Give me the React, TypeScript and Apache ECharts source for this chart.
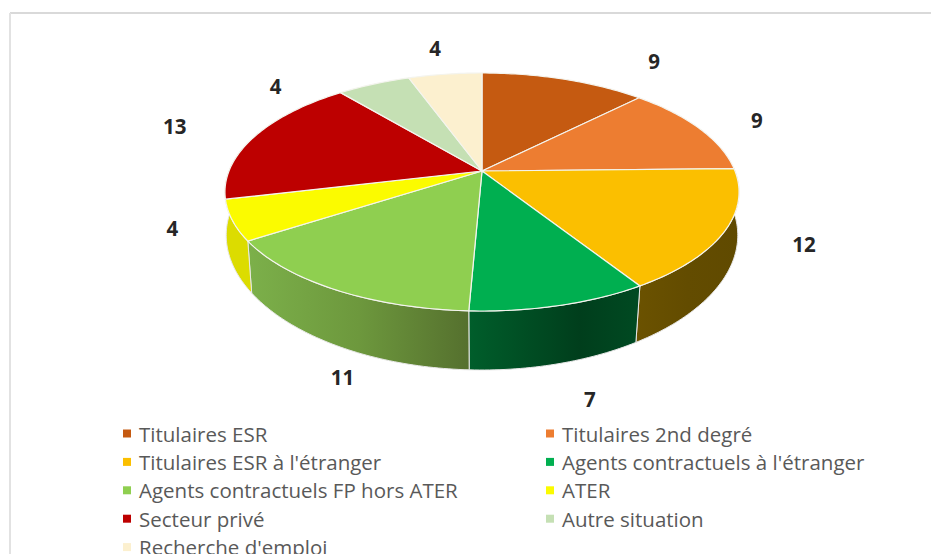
import React, { useEffect, useRef } from "react";
import * as echarts from "echarts";

const categories = [
  "Titulaires ESR",
  "Titulaires 2nd degré",
  "Titulaires ESR à l'étranger",
  "Agents contractuels à l'étranger",
  "Agents contractuels FP hors ATER",
  "ATER",
  "Secteur privé",
  "Autre situation",
  "Recherche d'emploi",
];
const values = [9, 9, 12, 7, 11, 4, 13, 4, 4];
const topColors = ["#C55A11", "#ED7D31", "#FBBF00", "#00AF50", "#8FCF50", "#FBFB00", "#BD0000", "#C5E0B4", "#FCF0CF"];

// Layout of the tilted disc (projected circle)
const CX = 482, CY = 171, RX = 253, RY = 115.3, PERSPECTIVE = 0.1765;
const DEPTH = 45, BOTTOM_SY = 1.1, BOTTOM_SX_K = 0.03;
const FONT = '"Open Sans", sans-serif';
const labelOffsets = [[90, -18], [58, -8], [79, 13], [30, 93.5], [8, 88], [-60, 8], [-80, -10], [-98, 2], [-10, -26]];

const total = values.reduce((a, b) => a + b, 0);
const startOf = (i: number) => (values.slice(0, i).reduce((a, b) => a + b, 0) / total) * 360;
const rad = (d: number) => (d * Math.PI) / 180;

function topPoint(deg: number): [number, number] {
  const s = Math.sin(rad(deg)), c = Math.cos(rad(deg));
  const w = 1 + PERSPECTIVE * c;
  return [CX + (RX * s) / w, CY - (RY * c) / w];
}
function bottomPoint(deg: number): [number, number] {
  const [x, y] = topPoint(deg);
  const sx = 1 - BOTTOM_SX_K * Math.abs(Math.cos(rad(deg)));
  return [CX + (x - CX) * sx, CY + DEPTH + (y - CY) * BOTTOM_SY];
}
function arc(fn: (d: number) => [number, number], a: number, b: number) {
  const n = Math.max(2, Math.ceil(Math.abs(b - a)));
  const pts: [number, number][] = [];
  for (let k = 0; k <= n; k++) pts.push(fn(a + ((b - a) * k) / n));
  return pts;
}
const grad = (stops: [number, string][]) =>
  new echarts.graphic.LinearGradient(0, 0, 1, 0, stops.map(([offset, color]) => ({ offset, color })));

const sideFills: Record<number, () => any> = {
  2: () => grad([[0, "#6B5200"], [0.5, "#634C00"], [1, "#604A00"]]),
  3: () => grad([[0, "#005E2B"], [0.65, "#003E1C"], [1, "#004A22"]]),
  4: () => grad([[0, "#7CB04A"], [0.5, "#6D983D"], [1, "#55702E"]]),
  5: () => "#DCDC00",
};
const SIDE_LAST = 5;
const SIDE_EXTEND_TO = 285;

export default function App() {
  const ref = useRef<HTMLDivElement>(null);
  useEffect(() => {
    document.body.style.margin = "0";
    document.body.style.overflow = "hidden";
    const chart = echarts.init(ref.current!, undefined, { renderer: "svg" });

    const sideSeries = Object.keys(sideFills).map((key) => {
      const i = Number(key);
      return {
        type: "custom",
        name: "side-" + i,
        coordinateSystem: "none",
        silent: true,
        z: 1,
        data: [[values[i]]],
        renderItem: (_: any, api: any) => {
          const a = startOf(i);
          let b = a + (api.value(0) / total) * 360;
          if (i === SIDE_LAST) b = SIDE_EXTEND_TO;
          const pts = [...arc(topPoint, a, b), ...arc(bottomPoint, b, a)];
          return {
            type: "polygon",
            shape: { points: pts },
            style: { fill: sideFills[i](), stroke: "#E8E8E8", lineWidth: 1 },
          };
        },
      };
    });

    const topSeries = categories.map((name, i) => ({
      type: "custom",
      name,
      coordinateSystem: "none",
      silent: true,
      z: 2,
      itemStyle: { color: topColors[i] },
      data: [[values[i]]],
      renderItem: (_: any, api: any) => {
        const v = api.value(0);
        const a = startOf(i);
        const b = a + (v / total) * 360;
        const rim = topPoint((a + b) / 2);
        return {
          type: "group",
          children: [
            {
              type: "polygon",
              shape: { points: [[CX, CY], ...arc(topPoint, a, b)] },
              style: { fill: topColors[i], stroke: "#F4F4EE", lineWidth: 1.2 },
            },
            {
              type: "text",
              z2: 10,
              style: {
                text: String(v),
                x: rim[0] + labelOffsets[i][0],
                y: rim[1] + labelOffsets[i][1],
                align: "center",
                verticalAlign: "middle",
                font: `bold 20.5px ${FONT}`,
                fill: "#262626",
              },
            },
          ],
        };
      },
    }));

    const legendBase = {
      orient: "vertical",
      icon: "rect",
      itemWidth: 8,
      itemHeight: 8,
      itemGap: 7.4,
      top: 423,
      height: 400,
      padding: 0,
      selectedMode: false,
      textStyle: { fontFamily: FONT, fontSize: 20.5, color: "#595959", lineHeight: 20, padding: [0, 0, 0, 3] },
    };

    chart.setOption({
      animation: false,
      backgroundColor: "#ffffff",
      graphic: [
        { type: "line", silent: true, shape: { x1: 10, y1: 13, x2: 931, y2: 13 }, style: { stroke: "#D9D9D9", lineWidth: 2 } },
        { type: "line", silent: true, shape: { x1: 10, y1: 13, x2: 10, y2: 554 }, style: { stroke: "#E2E2E2", lineWidth: 2 } },
      ],
      legend: [
        { ...legendBase, left: 123, data: categories.filter((_, i) => i % 2 === 0) },
        { ...legendBase, left: 546, data: categories.filter((_, i) => i % 2 === 1) },
      ],
      series: [...sideSeries, ...topSeries],
    });
    return () => chart.dispose();
  }, []);
  return <div ref={ref} style={{ width: 931, height: 554, overflow: "hidden" }} />;
}
